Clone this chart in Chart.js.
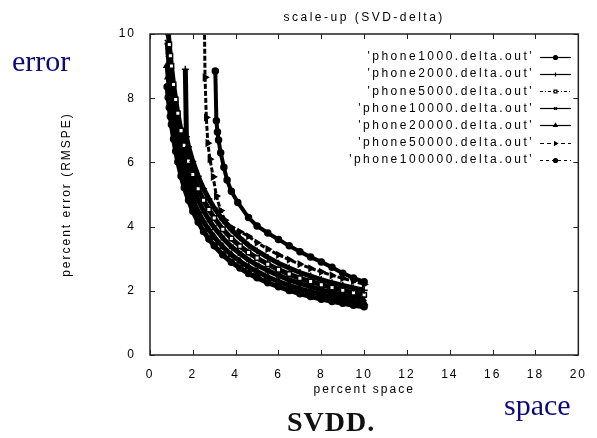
<!DOCTYPE html>
<html><head><meta charset="utf-8">
<script src="https://cdn.jsdelivr.net/npm/chart.js@4/dist/chart.umd.min.js"></script>
<style>
html,body{margin:0;padding:0;background:#fff;}
#wrap{position:relative;width:597px;height:438px;overflow:hidden;background:#fff;}
canvas{position:absolute;left:0;top:0;}
.note{position:absolute;font-family:'Liberation Serif','Times New Roman',serif;color:#0a0a78;font-size:30px;line-height:1;white-space:nowrap;}
#svdd{color:#111;font-weight:bold;font-size:28px;letter-spacing:1px;}
</style></head><body>
<div id="wrap"><canvas id="c" width="597" height="438"></canvas>
<div class="note" style="left:12px;top:46px">error</div>
<div class="note" style="left:504px;top:390px">space</div>
<div class="note" id="svdd" style="left:287px;top:408px">SVDD.</div>
</div>
<script>
// ---- data ----
const chartTitle = "scale-up (SVD-delta)";
const xTitle = "percent space";
const yTitle = "percent error (RMSPE)";
const seriesLabels = ["'phone1000.delta.out'","'phone2000.delta.out'","'phone5000.delta.out'","'phone10000.delta.out'","'phone20000.delta.out'","'phone50000.delta.out'","'phone100000.delta.out'"];
const xTicks = [0,2,4,6,8,10,12,14,16,18,20];
const yTicks = [0,2,4,6,8,10];

const x1000 = [3.05,3.1,3.15,3.2,3.3,3.45,3.6,3.8,4.1,4.6,5.0,5.5,6.0,6.5,7.0,7.5,8.0,8.5,9.0,9.5,10.0];
const y1000 = [8.85,7.3,6.95,6.7,6.3,5.85,5.45,5.1,4.75,4.28,4.02,3.8,3.6,3.4,3.22,3.05,2.9,2.73,2.55,2.4,2.28];

const x2000 = [1.65,1.7,1.8,2.0,2.25,2.5,2.75,3.0,3.4,3.8,4.2,4.6,5.0,5.5,6.0,6.5,7.0,7.5,8.0,8.5,9.0,9.5,10.0];
const y2000 = [8.9,6.8,6.49,6.03,5.57,5.18,4.86,4.58,4.21,3.9,3.65,3.42,3.24,3.04,2.86,2.71,2.57,2.46,2.35,2.25,2.17,2.09,2.02];

const xBand = [0.8,0.85,0.9,0.95,1.0,1.1,1.2,1.3,1.45,1.6,1.8,2.0,2.25,2.5,2.75,3.0,3.4,3.8,4.2,4.6,5.0,5.5,6.0,6.5,7.0,7.5,8.0,8.5,9.0,9.5,10.0];
const y5000 = [10.48,10.05,9.67,9.32,9.0,8.43,7.96,7.53,6.99,6.53,6.04,5.62,5.18,4.82,4.53,4.27,3.92,3.63,3.39,3.19,3.02,2.83,2.66,2.52,2.39,2.29,2.19,2.10,2.02,1.94,1.88];
const y10000 = [9.74,9.35,8.99,8.67,8.37,7.84,7.40,7.01,6.50,6.08,5.62,5.22,4.82,4.49,4.21,3.97,3.64,3.37,3.16,2.96,2.80,2.63,2.48,2.34,2.23,2.13,2.03,1.95,1.87,1.81,1.75];
const y20000 = [9.02,8.66,8.32,8.03,7.75,7.26,6.85,6.49,6.02,5.63,5.20,4.84,4.46,4.15,3.90,3.67,3.37,3.12,2.92,2.74,2.60,2.43,2.29,2.17,2.06,1.97,1.88,1.81,1.74,1.67,1.62];
const y100000 = [8.36,8.02,7.71,7.43,7.18,6.73,6.35,6.01,5.58,5.21,4.82,4.48,4.14,3.85,3.61,3.40,3.12,2.89,2.71,2.54,2.41,2.25,2.13,2.01,1.91,1.82,1.74,1.67,1.61,1.55,1.50];

const x50000 = [2.52,2.57,2.63,2.7,2.8,2.95,3.1,3.3,3.5,3.8,4.2,4.6,5.0,5.5,6.0,6.5,7.0,7.5,8.0,8.5,9.0,9.5,10.0];
const y50000 = [11.5,8.65,7.4,6.6,6.1,5.55,4.95,4.5,4.2,3.98,3.84,3.7,3.5,3.3,3.12,2.97,2.83,2.7,2.59,2.48,2.39,2.3,2.2];

// ---- build ----
const pts = (xs, ys) => xs.map((x, i) => ({x: x, y: ys[i]}));
const FONT = "'Liberation Sans', Arial, sans-serif";
const INK = '#000';

function ds(label, data, style, radius, dash, fill, width, rot) {
  return {
    label, data, showLine: true, borderColor: INK, borderWidth: width, borderDash: dash,
    pointStyle: style, pointRadius: radius, pointBorderWidth: 1.5, pointRotation: rot || 0,
    pointBackgroundColor: fill, pointBorderColor: INK, tension: 0
  };
}

const datasets = [
  ds(seriesLabels[0], pts(x1000, y1000), 'circle', 3, [], INK, 4),
  ds(seriesLabels[1], pts(x2000, y2000), 'cross', 3.5, [], INK, 5),
  ds(seriesLabels[2], pts(xBand, y5000), 'rect', 3.2, [], '#fff', 5),
  ds(seriesLabels[3], pts(xBand, y10000), 'crossRot', 3.2, [], INK, 5),
  ds(seriesLabels[4], pts(xBand, y20000), 'triangle', 3.5, [], INK, 5),
  ds(seriesLabels[5], pts(x50000, y50000), 'triangle', 3.2, [5,2], INK, 3, 90),
  ds(seriesLabels[6], pts(xBand, y100000), 'circle', 3, [], INK, 5)
];
const legendDash = [[], [], [3,2,1,2], [], [], [4,3], [3,3]];
const legendFill = [INK, INK, '#fff', INK, INK, INK, INK];

const gnuplotDeco = {
  id: 'gnuplotDeco',
  beforeDraw(chart) { chart.ctx.letterSpacing = '2px'; },
  afterDraw(chart) {
    const {ctx, chartArea: a, scales} = chart;
    ctx.save();
    ctx.strokeStyle = '#222';
    ctx.lineWidth = 1.5;
    ctx.setLineDash([]);
    ctx.strokeRect(a.left, a.top, a.right - a.left, a.bottom - a.top);
    ctx.lineWidth = 1;
    const tl = 5;
    scales.x.ticks.forEach(t => {
      const p = Math.round(scales.x.getPixelForValue(t.value)) + 0.5;
      ctx.beginPath();
      ctx.moveTo(p, a.bottom); ctx.lineTo(p, a.bottom - tl);
      ctx.moveTo(p, a.top); ctx.lineTo(p, a.top + tl);
      ctx.stroke();
    });
    scales.y.ticks.forEach(t => {
      const p = Math.round(scales.y.getPixelForValue(t.value)) + 0.5;
      ctx.beginPath();
      ctx.moveTo(a.left, p); ctx.lineTo(a.left + tl, p);
      ctx.moveTo(a.right, p); ctx.lineTo(a.right - tl, p);
      ctx.stroke();
    });
    // title
    ctx.letterSpacing = '2.5px';
    ctx.fillStyle = INK;
    ctx.font = '12px ' + FONT;
    ctx.textAlign = 'center';
    ctx.textBaseline = 'middle';
    ctx.fillText(chartTitle, (a.left + a.right) / 2, 18);
    // legend
    ctx.textAlign = 'right';
    chart.data.datasets.forEach((d, i) => {
      const y = 57 + i * 17.1;
      ctx.fillStyle = INK;
      ctx.letterSpacing = '2.5px';
      ctx.fillText(d.label, 534, y);
      ctx.letterSpacing = '0px';
      ctx.strokeStyle = INK;
      ctx.lineWidth = 1.2;
      ctx.setLineDash(legendDash[i]);
      ctx.beginPath();
      ctx.moveTo(540, Math.round(y) + 0.5); ctx.lineTo(571, Math.round(y) + 0.5);
      ctx.stroke();
      ctx.setLineDash([]);
      ctx.fillStyle = legendFill[i];
      Chart.helpers.drawPoint(ctx, {
        pointStyle: d.pointStyle, radius: 2, rotation: d.pointRotation || 0,
        borderWidth: 1
      }, 555.5, Math.round(y) + 0.5);
    });
    ctx.restore();
  }
};

Chart.defaults.font.family = FONT;
Chart.defaults.font.size = 12;
Chart.defaults.color = INK;

new Chart(document.getElementById('c'), {
  type: 'scatter',
  data: { datasets },
  options: {
    responsive: false,
    animation: false,
    devicePixelRatio: 1,
    layout: { padding: { left: 59, right: 11, top: 34, bottom: 41 } },
    plugins: { legend: { display: false }, tooltip: { enabled: false }, title: { display: false } },
    scales: {
      x: {
        type: 'linear', min: 0, max: 20,
        afterBuildTicks: s => { s.ticks = xTicks.map(v => ({value: v})); },
        afterFit: s => { s.height = 42; },
        grid: { drawOnChartArea: false, drawTicks: false },
        border: { display: false },
        ticks: { padding: 12, color: INK, font: { size: 12 } },
        title: { display: true, text: xTitle, padding: 0, color: INK, font: { size: 12 } }
      },
      y: {
        type: 'linear', min: 0, max: 10,
        afterBuildTicks: s => { s.ticks = yTicks.map(v => ({value: v})); },
        afterFit: s => { s.width = 91; },
        grid: { drawOnChartArea: false, drawTicks: false },
        border: { display: false },
        ticks: { padding: 14, color: INK, font: { size: 12 } },
        title: { display: true, text: yTitle, padding: 0, color: INK, font: { size: 12 } }
      }
    }
  },
  plugins: [gnuplotDeco]
});
</script>
</body></html>
